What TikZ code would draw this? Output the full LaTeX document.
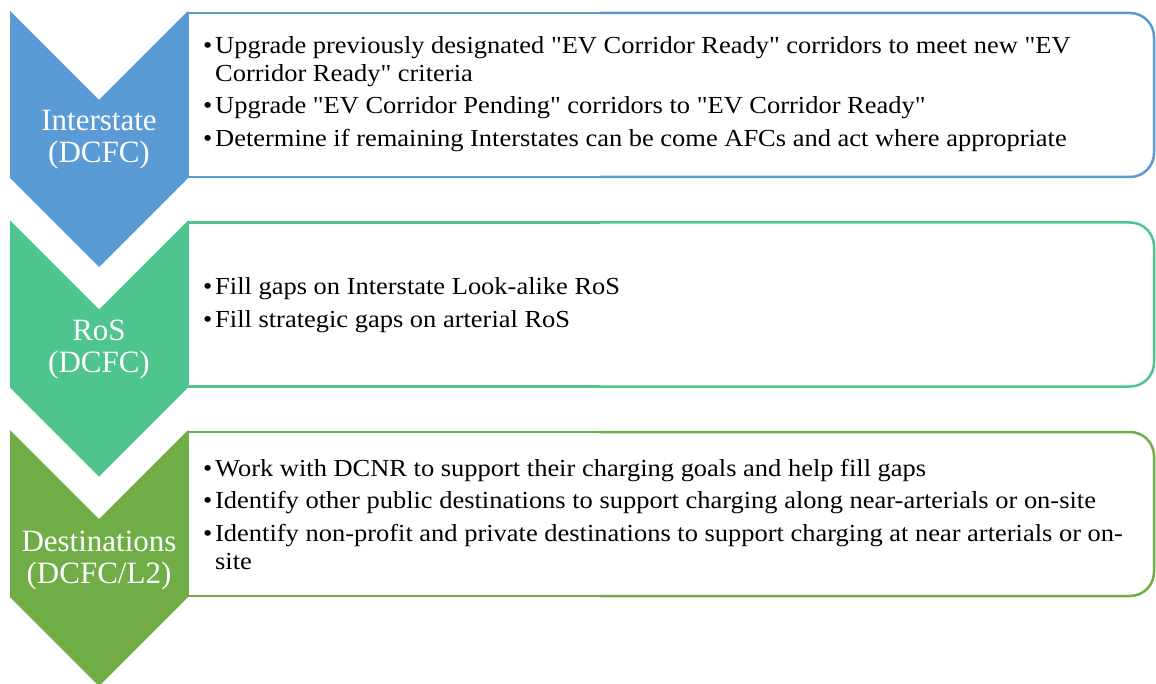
\documentclass[tikz,border=0pt]{standalone}
\usepackage{fontspec}
\setmainfont{Liberation Serif}
\newfontfamily\bodyfont[FakeStretch=1.08]{Liberation Serif}
\definecolor{cblue}{RGB}{91,155,213}
\definecolor{cteal}{RGB}{78,196,142}
\definecolor{cgreen}{RGB}{112,173,71}
\newcommand\itm{\makebox[12pt][l]{\textbullet}}
\newcommand\cont{\hspace*{12pt}}
\tikzset{
  chev/.style={fill=#1, draw=none},
  frame/.style={draw=#1, line width=2.5pt},
  tag/.style={text=white, align=center, inner sep=0pt,
    font=\fontsize{31}{32}\selectfont},
  items/.style={anchor=west, align=left, inner sep=0pt,
    font=\bodyfont\fontsize{24.5}{28}\selectfont},
}
\begin{document}
\begin{tikzpicture}[x=1pt,y=-1pt]
\useasboundingbox (0,0) rectangle (1156,684);

% one chevron plus its text frame, #1 = top edge, #2 = colour
\foreach \t/\c/\n in {11/cblue/a, 220.5/cteal/b, 430/cgreen/c}{
  \fill[chev=\c] (10,\t) -- (99,\t+89) -- (188,\t) -- (188,\t+167)
     -- (99,\t+256) -- (10,\t+167) -- cycle;
  \draw[frame=\c] (600,\t+2) -- (188,\t+2) -- (188,\t+166) -- (600,\t+166);
  \draw[frame=\c, rounded corners=24pt] (600,\t+2) -| (1154,\t+84) |- (600,\t+166);
}

\node[tag] (ta) at (99,140) {Interstate\\(DCFC)};
\node[tag] (tb) at (99,350) {RoS\\(DCFC)};
\node[tag] (tc) at (99,561) {Destinations\\(DCFC/L2)};

\node[items] (la) at (203,94) {\itm Upgrade previously designated "EV Corridor Ready" corridors to meet new "EV\\
\cont Corridor Ready" criteria\\[4.5pt]
\itm Upgrade "EV Corridor Pending" corridors to "EV Corridor Ready"\\[4.5pt]
\itm Determine if remaining Interstates can be come AFCs and act where appropriate};

\node[items] (lb) at (203,305) {\itm Fill gaps on Interstate Look-alike RoS\\[4.5pt]
\itm Fill strategic gaps on arterial RoS};

\node[items] (lc) at (203,514) {\itm Work with DCNR to support their charging goals and help fill gaps\\[4.5pt]
\itm Identify other public destinations to support charging along near-arterials or on-site\\[4.5pt]
\itm Identify non-profit and private destinations to support charging at near arterials or on-\\
\cont site};
\end{tikzpicture}
\end{document}
